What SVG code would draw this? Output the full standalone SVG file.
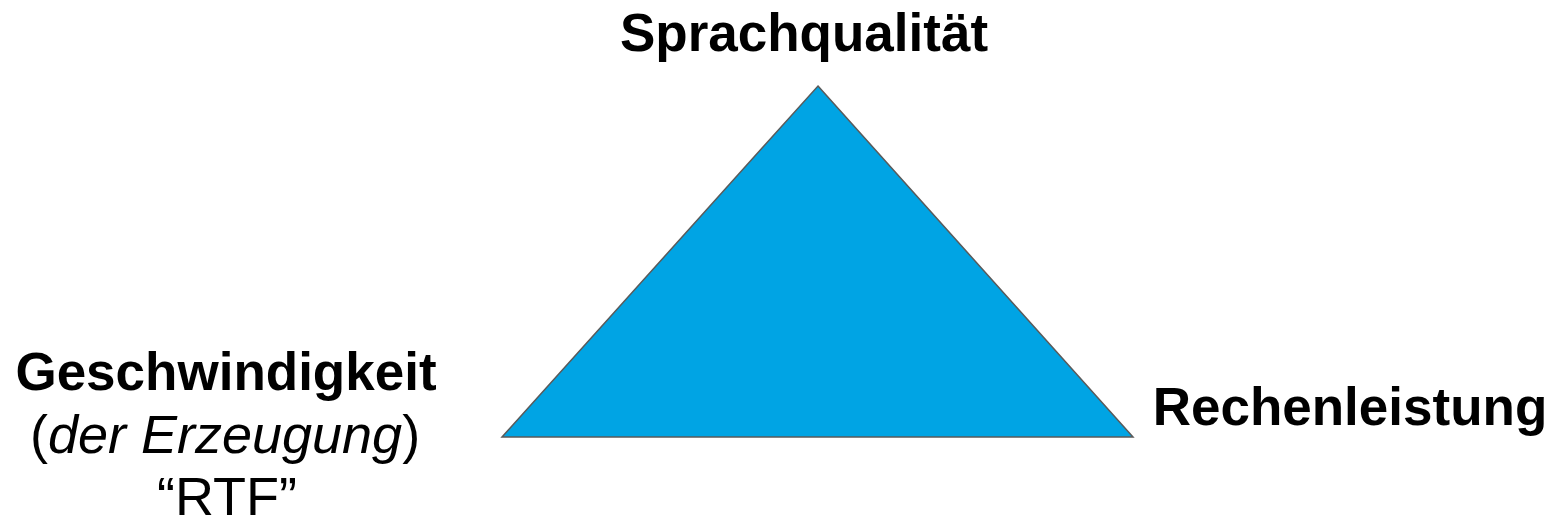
<svg xmlns="http://www.w3.org/2000/svg" width="1556" height="519" viewBox="0 0 1556 519">
<style>
.lbl{font-family:"Liberation Sans",Arial,sans-serif;fill:#000;font-size:54px}
.b{font-weight:bold;font-size:53px}
.it{font-style:italic}
</style>
<rect width="1556" height="519" fill="#fff"/>
<g id="triangle">
<polygon points="818,86 1133,437 502,437" fill="#00A4E4" stroke="#5a5a5a" stroke-width="1.5"/>
</g>
<g id="connectors"></g>
<g id="top">
<text class="lbl b" x="804" y="51" text-anchor="middle">Sprachqualität</text>
</g>
<g id="left">
<text class="lbl b" x="226" y="390" text-anchor="middle">Geschwindigkeit</text>
<text class="lbl" x="225" y="453" text-anchor="middle">(<tspan class="it">der Erzeugung</tspan>)</text>
<text class="lbl" x="227" y="515" text-anchor="middle">“RTF”</text>
</g>
<g id="right">
<text class="lbl b" x="1350" y="425" text-anchor="middle">Rechenleistung</text>
</g>
</svg>
